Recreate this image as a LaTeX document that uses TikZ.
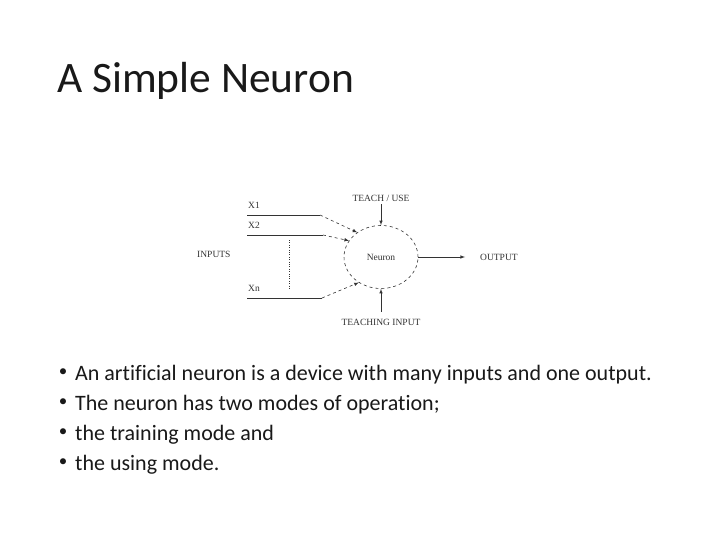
\documentclass[tikz,border=0pt]{standalone}
\usepackage{fontspec}
\setmainfont[Ligatures=NoCommon]{Carlito}
\newfontfamily\diagfont{Liberation Serif}
\usetikzlibrary{shapes.geometric}
\tikzset{>=latex}
\colorlet{txtcol}{black!90}
\colorlet{dcol}{black!80}
\tikzstyle{dline}=[dcol,semithick]
\tikzstyle{dlabel}=[dcol,font=\diagfont\fontsize{9.5}{11}\selectfont,inner sep=0]
\tikzstyle{bullet}=[txtcol,anchor=base west,inner sep=0,font=\fontsize{22}{26}\selectfont]
\tikzstyle{bdot}=[txtcol,inner sep=0,font=\fontsize{17}{20}\selectfont]

\begin{document}
\begin{tikzpicture}[x=1pt,y=-1pt]
  \useasboundingbox[fill=white] (0,0) rectangle (720,540);
  \def\cx{381} % neuron centre x
  \def\cy{257} % neuron centre y

  % TITLE
  \node[txtcol,anchor=base west,inner sep=0,font=\fontsize{43.5}{48}\selectfont] (title) at (57,93) {A Simple Neuron};

  % NEURON
  \node[dline,draw,dashed,ellipse,minimum width=74,minimum height=63,inner sep=0] (neuron) at (\cx,\cy) {};
  \node[dlabel] (nlab) at (neuron.center) {Neuron};

  % INPUTS
  \node[dlabel,anchor=west] (inputs) at (197,254) {INPUTS};
  \node[dlabel,anchor=west] (x1) at (248,205) {X1};
  \node[dlabel,anchor=west] (x2) at (248,225) {X2};
  \node[dlabel,anchor=west] (xn) at (248,288) {Xn};
  \coordinate (x1s) at (247,215);
  \coordinate (x1b) at (320,215);
  \coordinate (x2s) at (247,235);
  \coordinate (x2b) at (323,235);
  \coordinate (xns) at (247,298);
  \coordinate (xnb) at (322,298);
  \draw[dline] (x1s) -- (x1b);
  \draw[dline,dashed,->] (x1b) -- (neuron.134);
  \draw[dline] (x2s) -- (x2b);
  \draw[dline,dashed,->] (x2b) -- (neuron.153);
  \draw[dline] (xns) -- (xnb);
  \draw[dline,dashed,->] (xnb) -- (neuron.229);
  \coordinate (dtop) at (289,240);
  \coordinate (dbot) at (289,290);
  \draw[dcol,dotted] (dtop) -- (dbot);

  % TEACH / USE AND TEACHING INPUT
  \node[dlabel] (teach) at (\cx,198) {TEACH / USE};
  \draw[dline,->] (teach.south) ++(0,3) -- (neuron.north);
  \node[dlabel] (tinput) at (\cx,322) {TEACHING INPUT};
  \draw[dline,->] (tinput.north) ++(0,-7) -- (neuron.south);

  % OUTPUT
  \node[dlabel,anchor=west] (output) at (480,257) {OUTPUT};
  \coordinate (oend) at (465,257);
  \draw[dline,->] (neuron.east) -- (oend);

  % BULLETS
  \foreach \t [count=\i] in {An artificial neuron is a device with many inputs and one output.,
                             The neuron has two modes of operation;,
                             the training mode and,
                             the using mode.}
  {
    \node[bullet] (b\i) at (75,380+30*\i-30) {\t};
    \node[bdot] (d\i) at (63,373+30*\i-30) {\textbullet};
  }
\end{tikzpicture}
\end{document}
